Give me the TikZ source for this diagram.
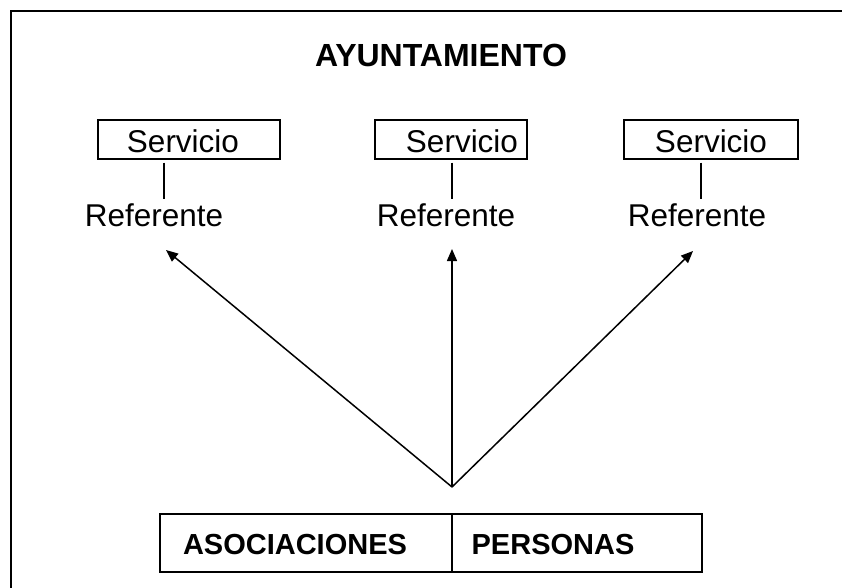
\documentclass[tikz,border=0pt]{standalone}
\usepackage{fontspec}
\setmainfont{Liberation Sans}
\usetikzlibrary{arrows.meta}
\begin{document}
\begin{tikzpicture}[x=1bp,y=-1bp,
  cell/.style={draw, line width=1.4bp, inner sep=0pt},
  txt/.style={inner sep=0pt, font=\fontsize{31.5bp}{36bp}\selectfont},
  boldtxt/.style={inner sep=0pt, font=\fontsize{29bp}{35bp}\selectfont\bfseries},
  titletxt/.style={inner sep=0pt, font=\fontsize{32bp}{38bp}\selectfont\bfseries},
  arr/.style={line width=1.5bp, -{Triangle[length=12bp,width=10bp]}},
  ln/.style={line width=1.6bp}]
\useasboundingbox (0,0) rectangle (842,588);
% frame
\draw[line width=2.2bp] (11,588) -- (11,11) -- (842,11);
% title
\node[titletxt, anchor=base] (title) at (441,67) {AYUNTAMIENTO};
% service boxes
\node[cell, minimum width=182bp, minimum height=39bp] (s1) at (189,139.5) {};
\node[cell, minimum width=152bp, minimum height=39bp] (s2) at (451,139.5) {};
\node[cell, minimum width=174bp, minimum height=39bp] (s3) at (711,139.5) {};
\node[txt, anchor=base] (st1) at (183,153) {Servicio};
\node[txt, anchor=base] (st2) at (462,153) {Servicio};
\node[txt, anchor=base] (st3) at (711,153) {Servicio};
% referentes
\node[txt, anchor=base] (r1) at (154,227) {Referente};
\node[txt, anchor=base] (r2) at (446,227) {Referente};
\node[txt, anchor=base] (r3) at (697,227) {Referente};
% connectors box - referente
\draw[ln] (164,0 |- s1.south) ++(0,3) -- (164,199);
\draw[ln] (452,0 |- s2.south) ++(0,3) -- (452,199);
\draw[ln] (701,0 |- s3.south) ++(0,3) -- (701,199);
% bottom cells
\node[cell, minimum width=292bp, minimum height=58bp] (a) at (306,543) {};
\node[cell, minimum width=250bp, minimum height=58bp] (p) at (577,543) {};
\node[boldtxt, anchor=base] (at) at (295,554) {ASOCIACIONES};
\node[boldtxt, anchor=base] (pt) at (553,554) {PERSONAS};
% arrows
\coordinate (apex) at (452,487);
\coordinate (t1) at (166,250);
\coordinate (t2) at (452,249);
\coordinate (t3) at (693,251);
\draw[arr] (apex) -- (t1);
\draw[arr] (apex) -- (t2);
\draw[arr] (apex) -- (t3);
\end{tikzpicture}
\end{document}
